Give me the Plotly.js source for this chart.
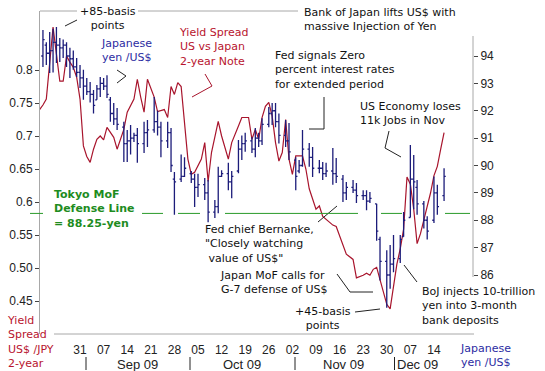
<!DOCTYPE html>
<html><head><meta charset="utf-8">
<script src="https://cdn.plot.ly/plotly-3.0.1.min.js"></script>
<style>html,body{margin:0;padding:0;background:#fff}#chart{width:545px;height:371px}</style>
</head><body><div id="chart"></div>
<script>
// ---- data: Japanese yen per US$ (daily bars) ----
const yenDates = ['2009-08-20','2009-08-21','2009-08-22','2009-08-23','2009-08-24','2009-08-25','2009-08-26','2009-08-27','2009-08-28','2009-08-29',
'2009-08-30','2009-08-31','2009-09-01','2009-09-02','2009-09-03','2009-09-04','2009-09-05','2009-09-06','2009-09-07','2009-09-08',
'2009-09-09','2009-09-10','2009-09-11','2009-09-13','2009-09-14','2009-09-15','2009-09-16','2009-09-17','2009-09-19','2009-09-20',
'2009-09-22','2009-09-23','2009-09-24','2009-09-26','2009-09-27','2009-09-28','2009-09-30','2009-10-01','2009-10-03','2009-10-04',
'2009-10-05','2009-10-07','2009-10-08','2009-10-10','2009-10-11','2009-10-12','2009-10-14','2009-10-15','2009-10-17','2009-10-18',
'2009-10-19','2009-10-21','2009-10-22','2009-10-23','2009-10-24','2009-10-26','2009-10-27','2009-10-28','2009-10-29','2009-10-31',
'2009-11-01','2009-11-03','2009-11-04','2009-11-05','2009-11-07','2009-11-08','2009-11-10','2009-11-11','2009-11-12','2009-11-14',
'2009-11-15','2009-11-17','2009-11-18','2009-11-20','2009-11-21','2009-11-23','2009-11-24','2009-11-25','2009-11-27','2009-11-28',
'2009-11-30','2009-12-01','2009-12-02','2009-12-04','2009-12-05','2009-12-07','2009-12-08','2009-12-09','2009-12-11','2009-12-12',
'2009-12-14','2009-12-15','2009-12-17'];
const yenOpen = [94.0,94.4,94.1,94.2,94.5,94.4,94.3,94.4,94.0,93.9,
93.6,93.4,93.2,92.9,92.7,92.6,92.4,92.8,93.0,92.9,
92.4,91.9,91.7,91.4,90.8,90.9,91.0,91.1,90.8,91.2,
91.3,91.6,91.4,90.9,91.2,89.5,89.5,89.6,89.7,89.5,
89.2,89.3,89.0,88.3,88.5,89.6,89.7,89.4,89.8,90.6,
90.8,90.9,90.6,91.0,90.9,91.5,91.9,92.0,91.6,91.1,
90.9,90.2,89.8,90.0,90.6,90.3,89.9,89.9,89.7,89.8,
89.7,89.5,89.0,89.2,89.1,88.9,88.9,88.7,88.6,87.3,
86.5,86.0,86.4,86.6,87.4,88.1,89.5,89.2,88.6,88.0,
88.0,89.0,88.9];
const yenHigh = [94.95,94.5,94.88,95.0,95.06,94.66,94.6,94.5,94.3,94.2,
93.93,93.67,93.5,93.2,93.05,92.76,92.94,93.23,93.2,93.3,
92.5,92.28,92.1,91.6,91.3,91.48,91.2,91.37,91.6,91.66,
92.5,92.0,91.6,91.6,91.37,89.76,90.4,90.3,89.8,89.7,
89.7,89.54,89.47,88.74,89.95,89.83,90.1,89.8,90.93,91.1,
91.2,91.04,91.37,91.2,91.73,92.14,92.28,92.28,91.9,91.66,
91.55,90.3,90.2,91.3,90.82,90.68,90.2,90.13,90.1,90.64,
90.27,89.65,89.4,89.47,89.36,89.1,89.1,89.03,88.6,87.4,
86.9,87.1,87.46,87.46,88.3,90.75,90.38,89.47,88.7,88.15,
89.6,89.3,89.9];
const yenLow = [93.6,93.67,93.38,93.4,93.74,93.78,93.93,93.6,93.2,93.5,
93.23,92.83,92.4,92.58,92.3,91.9,92.4,92.5,92.76,92.47,
91.6,91.48,91.3,90.13,90.13,90.4,90.86,90.1,90.46,90.68,
91.2,91.1,90.3,90.64,89.76,88.2,89.4,89.58,89.36,88.48,
88.85,88.74,87.93,88.08,88.26,89.58,89.1,88.8,89.72,90.2,
90.5,90.46,90.3,90.68,90.75,91.4,91.48,91.4,90.8,90.68,
90.2,89.1,89.72,89.95,89.95,89.58,89.72,89.47,89.58,89.3,
89.36,88.67,88.74,89.0,88.63,88.74,88.37,88.63,87.25,85.8,
84.8,85.5,86.1,86.44,87.4,88.1,88.4,88.2,87.7,87.3,
87.9,88.2,88.7];
const yenClose = [94.6,94.1,94.2,94.5,94.4,94.3,94.4,94.0,93.9,93.6,
93.4,93.2,92.9,92.7,92.6,92.2,92.8,93.0,92.9,92.6,
91.9,91.7,91.5,90.8,90.9,91.0,91.1,90.8,91.2,91.3,
91.6,91.4,90.9,91.2,90.0,89.4,89.6,89.9,89.5,89.2,
89.3,89.0,88.3,88.5,89.6,89.7,89.4,89.6,90.6,90.8,
90.9,90.6,91.0,90.9,91.5,91.9,92.0,91.6,91.1,90.9,
90.5,89.6,90.0,90.6,90.3,89.9,89.9,89.7,89.8,89.7,
89.6,89.0,89.2,89.1,88.9,88.9,88.7,88.8,87.6,86.5,
86.0,86.4,86.6,87.3,88.0,89.5,89.4,88.6,88.0,87.6,
89.0,88.5,89.6];

// ---- data: 2-year yield spread US vs Japan ----
const spreadDates = ['2009-08-19','2009-08-20','2009-08-21','2009-08-22','2009-08-23','2009-08-24','2009-08-25','2009-08-26','2009-08-27','2009-08-28',
'2009-08-29','2009-08-30','2009-08-31','2009-09-01','2009-09-02','2009-09-03','2009-09-04','2009-09-05','2009-09-06','2009-09-07',
'2009-09-08','2009-09-10','2009-09-11','2009-09-13','2009-09-14','2009-09-16','2009-09-17','2009-09-18','2009-09-19','2009-09-20',
'2009-09-22','2009-09-23','2009-09-25','2009-09-26','2009-09-27','2009-09-28','2009-09-29','2009-09-30','2009-10-01','2009-10-02',
'2009-10-03','2009-10-04','2009-10-06','2009-10-07','2009-10-08','2009-10-09','2009-10-11','2009-10-12','2009-10-14','2009-10-15',
'2009-10-17','2009-10-18','2009-10-20','2009-10-21','2009-10-22','2009-10-23','2009-10-24','2009-10-25','2009-10-26','2009-10-27',
'2009-10-28','2009-10-29','2009-10-30','2009-10-31','2009-11-01','2009-11-02','2009-11-03','2009-11-05','2009-11-06','2009-11-07',
'2009-11-09','2009-11-10','2009-11-11','2009-11-12','2009-11-14','2009-11-15','2009-11-17','2009-11-18','2009-11-20','2009-11-21',
'2009-11-23','2009-11-24','2009-11-25','2009-11-26','2009-11-27','2009-11-29','2009-11-30','2009-12-01','2009-12-02','2009-12-03',
'2009-12-04','2009-12-05','2009-12-06','2009-12-07','2009-12-08','2009-12-09','2009-12-10','2009-12-11','2009-12-12','2009-12-13',
'2009-12-14','2009-12-15','2009-12-16','2009-12-17'];
const spreadValues = [0.740,0.747,0.756,0.806,0.865,0.824,0.783,0.783,0.821,0.812,
0.804,0.789,0.756,0.685,0.669,0.660,0.680,0.695,0.700,0.694,
0.713,0.698,0.680,0.710,0.736,0.756,0.786,0.759,0.736,0.786,
0.759,0.737,0.740,0.728,0.775,0.763,0.781,0.775,0.715,0.665,
0.642,0.645,0.665,0.690,0.631,0.675,0.722,0.700,0.665,0.690,
0.715,0.728,0.728,0.695,0.710,0.695,0.728,0.745,0.751,0.730,
0.690,0.662,0.675,0.725,0.665,0.642,0.670,0.670,0.650,0.620,
0.589,0.594,0.578,0.574,0.565,0.563,0.533,0.521,0.513,0.485,
0.489,0.492,0.489,0.498,0.501,0.463,0.445,0.438,0.473,0.506,
0.529,0.559,0.638,0.627,0.589,0.537,0.552,0.572,0.590,0.614,
0.640,0.654,0.680,0.705];

// ---- ticks ----
const xTickDates = ['2009-08-31','2009-09-07','2009-09-14','2009-09-21','2009-09-28','2009-10-05','2009-10-12','2009-10-19',
'2009-10-26','2009-11-02','2009-11-09','2009-11-16','2009-11-23','2009-11-30','2009-12-07','2009-12-14'];
const xTickLabels = ['31','07','14','21','28','05','12','19','26','02','09','16','23','30','07','14'];
const monthLabels = ['Sep 09','Oct 09','Nov 09','Dec 09'];
const leftTicks = [0.45,0.50,0.55,0.6,0.65,0.7,0.75,0.8];
const leftTickLabels = ['0.45','0.50','0.55','0.6','0.65','0.7','0.75','0.8'];
const rightTicks = [86,87,88,89,90,91,92,93,94];
const defenseLevel = 88.25;

// ---- layout helpers (pixel -> paper) ----
const L = 40, R = 473, T = 11, B = 334;
const px = x => (x - L) / (R - L);
const py = y => (B - y) / (B - T);
const FONT = 'DejaVu Sans, Verdana, sans-serif';
const TICKFONT = 'Liberation Sans, Arial, sans-serif';
const RED = '#a8142c', REDTXT = '#b8142e', BLUE = '#1c1c7a', BLUETXT = '#2c2ca2', GREEN = '#2a9a2a';

function poly(pts, color) {
  return {type: 'path', xref: 'paper', yref: 'paper', layer: 'above',
    path: 'M' + pts.map(p => px(p[0]) + ',' + py(p[1])).join(' L'),
    line: {color: color || '#222', width: 1}};
}
function note(text, x, y, extra) {
  return Object.assign({text: text, xref: 'paper', yref: 'paper', x: px(x), y: py(y),
    xanchor: 'left', yanchor: 'middle', align: 'left', showarrow: false,
    font: {family: FONT, size: 11, color: '#111'}}, extra || {});
}

const traces = [
  {type: 'scatter', mode: 'lines', x: spreadDates, y: spreadValues, yaxis: 'y',
   line: {color: RED, width: 1.2}, hoverinfo: 'skip', name: 'Yield Spread'},
  {type: 'ohlc', x: yenDates, open: yenOpen, high: yenHigh, low: yenLow, close: yenClose,
   yaxis: 'y2', tickwidth: 0.5, hoverinfo: 'skip', name: 'Japanese yen /US$',
   increasing: {line: {color: BLUE, width: 1.3}}, decreasing: {line: {color: BLUE, width: 1.3}}}
];

const greenSegs = [[30,43],[142,163],[178,200],[225,358],[381,402],[445,470]];
const shapes = [
  poly([[40,11],[77,11]], '#a8a8a8'),
  poly([[138,11],[298,11]], '#a8a8a8'),
  poly([[473,36],[473,277]], '#a8a8a8'),
  poly([[54,334],[474,334]], '#a8a8a8'),
  poly([[65,26],[77,20]]),
  poly([[117,70],[126,76],[117,83]]),
  poly([[205,74],[212,86],[192,97]], RED),
  poly([[324,97],[324,129],[309,129]]),
  poly([[389,131],[385,148],[401,157]]),
  poly([[318,222],[337,206]]),
  poly([[337,274],[350,292],[373,292]]),
  poly([[355,312],[380,309]]),
  poly([[404,265],[417,282]]),
  poly([[86,357],[86,370]]),
  poly([[190,357],[190,370]]),
  poly([[295,357],[295,370]]),
  poly([[394.5,357],[394.5,370]])
];
greenSegs.forEach(s => shapes.push({type: 'line', xref: 'paper', yref: 'y2', x0: px(s[0]), x1: px(s[1]),
  y0: defenseLevel, y1: defenseLevel, line: {color: GREEN, width: 1}}));

const annotations = [
  note('Bank of Japan lifts US$ with<br>massive Injection of Yen', 302, 19.5),
  note('+85-basis<br>points', 108, 18, {xanchor: 'center', align: 'center'}),
  note('Japanese<br>yen /US$', 99, 50.5, {font: {family: FONT, size: 11, color: BLUETXT}}),
  note('Yield Spread<br>US vs Japan<br>2-year Note', 177, 47, {font: {family: FONT, size: 11, color: REDTXT}}),
  note('Fed signals Zero<br>percent interest rates<br>for extended period', 273, 70),
  note('US Economy loses<br>11k Jobs in Nov', 358, 113.5),
  note('<b>Tokyo MoF<br>Defense Line<br>= 88.25-yen</b>', 52, 209, {font: {family: FONT, size: 11, color: '#1e8c1e'}}),
  note('Fed chief Bernanke,<br>"Closely watching<br>&nbsp;value of US$"', 203, 243.5),
  note('Japan MoF calls for<br>G-7 defense of US$', 218, 282),
  note('+45-basis<br>points', 323, 318, {xanchor: 'center', align: 'center'}),
  note('BoJ injects 10-trillion<br>yen into 3-month<br>bank deposits', 420, 306),
  note('Yield<br>Spread<br>US$ /JPY<br>2-year', 5, 342, {font: {family: FONT, size: 11, color: REDTXT}}),
  note('Japanese<br>yen /US$', 458, 355, {font: {family: FONT, size: 11, color: BLUETXT}}),
  note(monthLabels[0], 137, 364, {xanchor: 'center', font: {family: TICKFONT, size: 13, color: '#222'}}),
  note(monthLabels[1], 242, 364, {xanchor: 'center', font: {family: TICKFONT, size: 13, color: '#222'}}),
  note(monthLabels[2], 343, 364, {xanchor: 'center', font: {family: TICKFONT, size: 13, color: '#222'}}),
  note(monthLabels[3], 395, 364, {font: {family: TICKFONT, size: 13, color: '#222'}})
];

const layout = {
  width: 545, height: 371,
  margin: {l: L, r: 545 - R, t: T, b: 371 - B, pad: 0},
  paper_bgcolor: '#fff', plot_bgcolor: '#fff',
  showlegend: false,
  xaxis: {type: 'date', range: ['2009-08-19 03:00', '2009-12-25 14:00'], tickvals: xTickDates, ticktext: xTickLabels,
    showgrid: false, zeroline: false, showline: false, ticks: 'outside', ticklen: 5, tickcolor: 'rgba(0,0,0,0)',
    tickfont: {family: TICKFONT, size: 12, color: '#222'}, rangeslider: {visible: false}, fixedrange: true},
  yaxis: {range: [0.40, 0.8894], tickvals: leftTicks, ticktext: leftTickLabels, showgrid: false, zeroline: false,
    showline: true, linecolor: '#a8a8a8', linewidth: 1, ticks: 'outside', ticklen: 4, tickcolor: '#444',
    tickfont: {family: TICKFONT, size: 12, color: '#222'}, fixedrange: true},
  yaxis2: {range: [83.845, 95.644], overlaying: 'y', side: 'right', tickvals: rightTicks, showgrid: false, zeroline: false,
    showline: false, ticks: 'outside', ticklen: 4, tickcolor: '#444',
    tickfont: {family: TICKFONT, size: 12, color: '#222'}, fixedrange: true},
  shapes: shapes,
  annotations: annotations
};

Plotly.newPlot('chart', traces, layout, {displayModeBar: false, staticPlot: true});
</script>
</body></html>
